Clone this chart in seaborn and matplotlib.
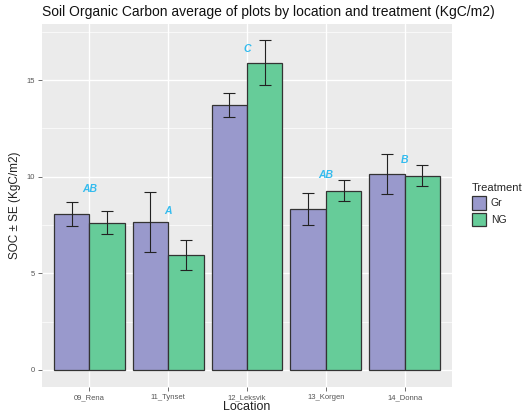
import numpy as np
import pandas as pd
import seaborn as sns
import matplotlib.pyplot as plt
from matplotlib.ticker import MultipleLocator

locations = ["09_Rena", "11_Tynset", "12_Leksvik", "13_Korgen", "14_Donna"]
treatments = ["Gr", "NG"]
soc_gr = [8.07, 7.66, 13.72, 8.33, 10.14]
soc_ng = [7.62, 5.95, 15.9, 9.28, 10.05]
se_gr = [0.62, 1.55, 0.62, 0.82, 1.06]
se_ng = [0.6, 0.8, 1.17, 0.55, 0.55]
letters = ["AB", "A", "C", "AB", "B"]
letter_y = [9.35, 8.2, 16.6, 10.1, 10.85]

df = pd.DataFrame({
    "Location": locations * 2,
    "Treatment": ["Gr"] * 5 + ["NG"] * 5,
    "SOC": soc_gr + soc_ng,
    "SE": se_gr + se_ng,
})

sns.set_theme(style="darkgrid", rc={
    "axes.facecolor": "#EBEBEB",
    "grid.color": "white",
})
plt.rcParams["font.family"] = ["Liberation Sans", "DejaVu Sans"]

fig = plt.figure(figsize=(5.22, 4.16), dpi=100)
ax = fig.add_axes([42 / 522, 1 - 387 / 416, 410 / 522, 363 / 416])

sns.barplot(data=df, x="Location", y="SOC", hue="Treatment",
            hue_order=treatments, order=locations,
            palette={"Gr": "#9999CC", "NG": "#66CC99"},
            errorbar=None, width=0.9, edgecolor="#333333", linewidth=0.9,
            saturation=1, ax=ax)

for cont, t in zip(ax.containers, treatments):
    sub = df[df["Treatment"] == t]
    xs = [b.get_x() + b.get_width() / 2 for b in cont]
    ax.errorbar(xs, sub["SOC"], yerr=sub["SE"], fmt="none",
                ecolor="#222222", elinewidth=0.8, capsize=4, capthick=0.8,
                zorder=5)

for i, (lab, yy) in enumerate(zip(letters, letter_y)):
    ax.text(i, yy, lab, color="#33BBEE", fontsize=7.5, fontweight="bold",
            fontstyle="italic", ha="center", va="center")

ax.set_xlim(-0.6, 4.6)
ax.set_ylim(-0.88, 17.9)
ax.yaxis.set_major_locator(MultipleLocator(5))
ax.yaxis.set_minor_locator(MultipleLocator(2.5))
ax.grid(which="major", color="white", linewidth=1.0)
ax.grid(which="minor", axis="y", color="white", linewidth=0.5)
ax.set_axisbelow(True)
for s in ax.spines.values():
    s.set_visible(False)
ax.tick_params(axis="both", which="major", length=3, width=0.6,
               color="#555555", labelsize=5.5, labelcolor="#555555",
               bottom=True, left=True, pad=2)
ax.tick_params(axis="y", which="minor", length=0)

ax.set_xlabel("Location", fontsize=9, color="#222222", labelpad=0)
ax.set_ylabel("SOC ± SE (KgC/m2)", fontsize=8.5, color="#222222", labelpad=4)
fig.text(42 / 522, 1 - 12 / 416,
         "Soil Organic Carbon average of plots by location and treatment (KgC/m2)",
         fontsize=10, color="#111111", ha="left", va="center")

leg = ax.legend(title="Treatment", loc="upper left",
                bbox_to_anchor=(467 / 522, 1 - 178 / 416),
                bbox_transform=fig.transFigure, frameon=False, borderpad=0,
                fontsize=7.5, title_fontsize=8, handlelength=1.3,
                handleheight=1.6, labelspacing=0.3, handletextpad=0.5,
                alignment="left")

fig.savefig("out.png", dpi=100)
